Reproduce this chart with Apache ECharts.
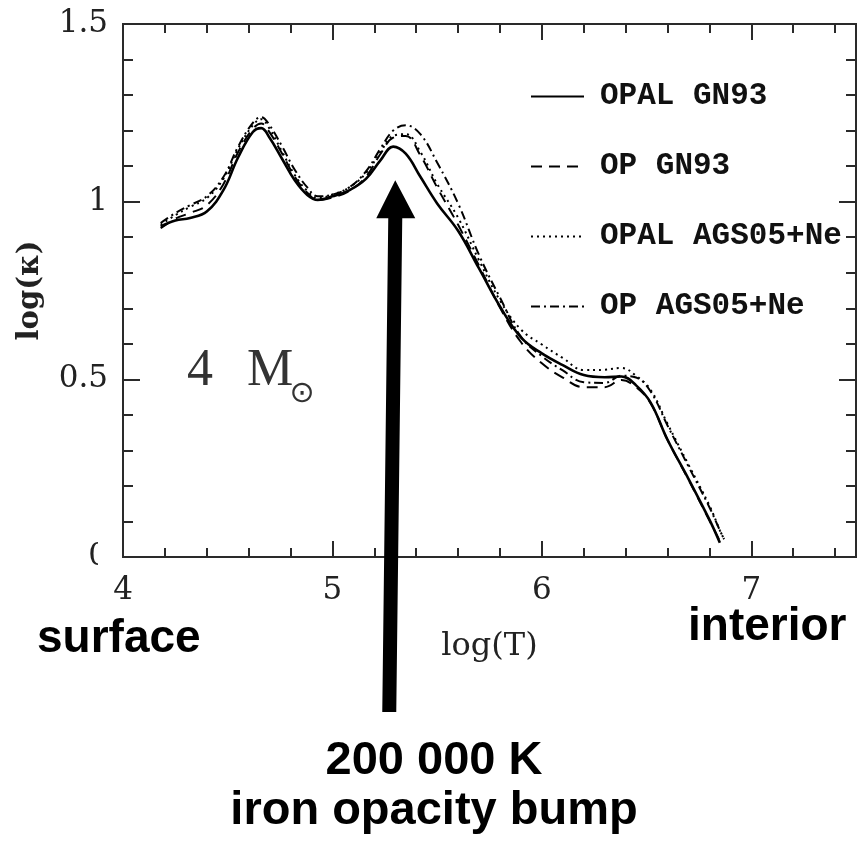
<!DOCTYPE html>
<html><head><meta charset="utf-8">
<script src="https://cdn.jsdelivr.net/npm/echarts@6/dist/echarts.min.js"></script>
<style>html,body{margin:0;padding:0;background:#fff}#c{width:858px;height:843px}</style>
</head><body><div id="c"></div>
<script>
// ---- data ----
const logT = [4.18,4.25,4.32,4.40,4.48,4.55,4.62,4.66,4.70,4.76,4.82,4.88,4.93,5.00,5.08,5.16,5.23,5.29,5.35,5.42,5.50,5.60,5.70,5.80,5.90,6.00,6.10,6.20,6.30,6.38,6.45,6.52,6.60,6.70,6.80,6.85,6.87];
const opalGN93   = [0.930,0.947,0.954,0.972,1.033,1.125,1.196,1.207,1.180,1.120,1.060,1.019,1.005,1.015,1.032,1.064,1.117,1.155,1.135,1.070,0.995,0.918,0.812,0.705,0.618,0.573,0.540,0.512,0.506,0.508,0.483,0.434,0.330,0.220,0.105,0.040,null];
const opGN93     = [0.925,0.952,0.968,0.990,1.050,1.140,1.205,1.220,1.195,1.135,1.070,1.025,1.005,1.012,1.030,1.070,1.135,1.180,1.185,1.130,1.040,0.935,0.820,0.702,0.605,0.545,0.505,0.478,0.478,0.498,0.478,0.432,0.330,0.218,0.103,0.045,null];
const opalAGS05  = [0.935,0.962,0.985,1.010,1.065,1.150,1.215,1.232,1.205,1.140,1.075,1.030,1.010,1.020,1.040,1.080,1.140,1.185,1.190,1.140,1.050,0.955,0.835,0.722,0.640,0.598,0.560,0.526,0.527,0.532,0.510,0.470,0.375,0.260,0.145,0.075,0.050];
const opAGS05    = [0.940,0.968,0.990,1.015,1.070,1.155,1.222,1.238,1.215,1.155,1.090,1.040,1.015,1.020,1.040,1.085,1.150,1.200,1.215,1.190,1.110,0.995,0.850,0.730,0.620,0.565,0.525,0.492,0.490,0.510,0.505,0.465,0.370,0.255,0.140,0.075,0.050];
const seriesNames = ['OPAL GN93','OP GN93','OPAL AGS05+Ne','OP AGS05+Ne'];
const xRange = [4, 7.5];
const yRange = [0, 1.5];
const bumpT = 5.3;      // iron opacity bump position (log T)
const bumpTipK = 1.06;  // arrow tip height (log kappa)

// ---- chart ----
const chart = echarts.init(document.getElementById('c'), null, {renderer:'canvas'});
const serif = '"DejaVu Serif", serif';
const axisCol = '#2a2a2a';

function xAx(pos, interval, len, labels, extra) {
  return Object.assign({
    type:'value', position:pos, min:xRange[0], max:xRange[1], interval:interval,
    axisLine:{show:true, onZero:false, lineStyle:{color:axisCol, width:2}},
    axisTick:{show:true, inside:true, length:len, lineStyle:{color:axisCol, width:2}},
    axisLabel:{show:labels, showMaxLabel:false, margin:18, fontFamily:serif, fontSize:31, color:'#222'},
    splitLine:{show:false}
  }, extra || {});
}
function yAx(pos, labels, extra) {
  return Object.assign({
    type:'value', position:pos, min:yRange[0], max:yRange[1], interval:0.5,
    axisLine:{show:true, onZero:false, lineStyle:{color:axisCol, width:2}},
    axisTick:{show:true, inside:true, length:17, lineStyle:{color:axisCol, width:2}},
    minorTick:{show:true, splitNumber:5, length:10, lineStyle:{color:axisCol, width:2}},
    axisLabel:{show:labels, margin:15, fontFamily:serif, fontSize:31, color:'#222'},
    splitLine:{show:false}, minorSplitLine:{show:false}
  }, extra || {});
}

const styles = [
  {type:'solid', width:2.6},
  {type:[11,7], width:2},
  {type:[2,4], width:2},
  {type:[9,4,2,4], width:2}
];
const dataSets = [opalGN93, opGN93, opalAGS05, opAGS05];

const option = {
  animation:false,
  backgroundColor:'#fff',
  grid:{left:123, top:24, width:733, height:533, containLabel:false},
  xAxis:[
    xAx('bottom', 1, 16, true, {name:'log(T)', nameLocation:'middle', nameGap:74,
      nameTextStyle:{fontFamily:serif, fontSize:32, color:'#222'}}),
    xAx('bottom', 0.2, 9, false),
    xAx('top', 1, 16, false),
    xAx('top', 0.2, 9, false)
  ],
  yAxis:[
    yAx('left', true, {name:'log(\u03ba)', nameLocation:'middle', nameGap:78, nameRotate:90,
      nameTextStyle:{fontFamily:serif, fontSize:29, fontWeight:'bold', color:'#222'}}),
    yAx('right', false)
  ],
  legend:{
    orient:'vertical', left:530, top:81, padding:0, itemWidth:53, itemHeight:14, itemGap:39,
    selectedMode:false, data:seriesNames,
    itemStyle:{opacity:0},
    textStyle:{fontFamily:'"Liberation Mono", monospace', fontSize:31, fontWeight:'bold', lineHeight:31, color:'#111', padding:[0,0,0,11]}
  },
  series: seriesNames.map((n,i)=>({
    name:n, type:'line', xAxisIndex:0, yAxisIndex:0, smooth:0.4, showSymbol:false, symbol:'none',
    connectNulls:false, clip:true,
    lineStyle:{color:'#000', type:styles[i].type, width:styles[i].width},
    itemStyle:{color:'#000'},
    data: logT.map((t,k)=>[t, dataSets[i][k]])
  }))
};
chart.setOption(option);

// ---- annotations ----
const px = chart.convertToPixel({xAxisIndex:0, yAxisIndex:0}, [bumpT, bumpTipK]);
const ax = px[0], ay = px[1];
const headY = ay + 38, shaftBottom = 712;
chart.setOption({
  graphic:[
    {type:'rect', z:100, shape:{x:98, y:540, width:22, height:34}, style:{fill:'#fff'}},
    {type:'polygon', z:100, shape:{points:[[ax,ay],[ax+20,headY],[ax+7,headY],[ax+1,shaftBottom],[ax-13,shaftBottom],[ax-7,headY],[ax-19,headY]]}, style:{fill:'#000'}},
    {type:'text', z:100, x:187, y:371, style:{text:'4', font:'52px "Liberation Serif", serif', fill:'#333', verticalAlign:'middle'}},
    {type:'text', z:100, x:247, y:371, style:{text:'M', font:'52px "Liberation Serif", serif', fill:'#333', verticalAlign:'middle'}},
    {type:'text', z:100, x:302, y:394, style:{text:'\u2299', font:'30px "DejaVu Sans", sans-serif', fill:'#333', align:'center', verticalAlign:'middle'}},
    {type:'text', z:100, x:37, y:639, style:{text:'surface', font:'bold 46px "Liberation Sans", Arial, sans-serif', fill:'#000', verticalAlign:'middle'}},
    {type:'text', z:100, x:688, y:627, style:{text:'interior', font:'bold 46px "Liberation Sans", Arial, sans-serif', fill:'#000', verticalAlign:'middle'}},
    {type:'text', z:100, x:434, y:761, style:{text:'200 000 K', font:'bold 47px "Liberation Sans", Arial, sans-serif', fill:'#000', align:'center', verticalAlign:'middle'}},
    {type:'text', z:100, x:434, y:811, style:{text:'iron opacity bump', font:'bold 47px "Liberation Sans", Arial, sans-serif', fill:'#000', align:'center', verticalAlign:'middle'}}
  ]
});
</script>
</body></html>
